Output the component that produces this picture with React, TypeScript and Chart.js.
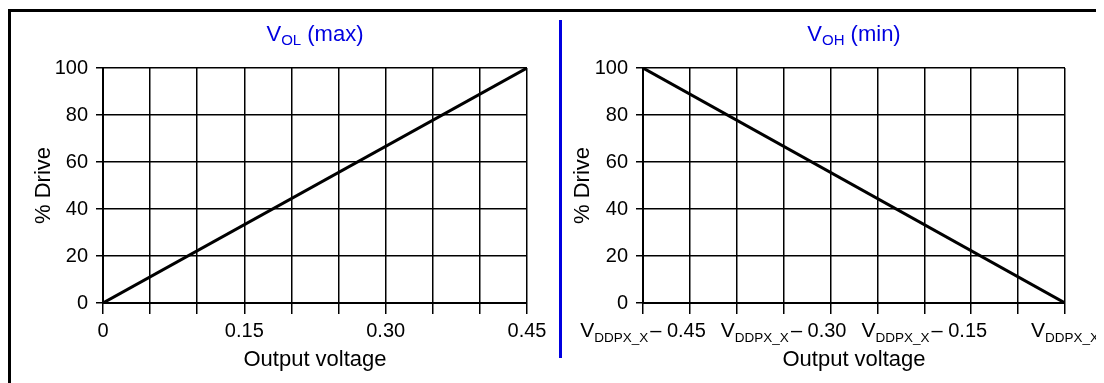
import React, { useEffect, useRef } from 'react';
import { Chart, registerables } from 'chart.js';

Chart.register(...registerables);

// ---- data ----
const voltage = [0, 0.45];
const volDrive = [0, 100];
const vohDrive = [100, 0];
const leftTickLabels = ['0', '0.15', '0.30', '0.45'];
const rightTickSuffix = ['– 0.45', '– 0.30', '– 0.15', ''];
const rightTickBase = 'V';
const rightTickSub = 'DDPX_X';
const leftTitle = ['V', 'OL', ' (max)'];
const rightTitle = ['V', 'OH', ' (min)'];
const yTitle = '% Drive';
const xTitle = 'Output voltage';
const xMin = 0;
const xMax = 0.45;
const xStep = 0.05;
const yMin = 0;
const yMax = 100;
const yStep = 20;

const FONT = '"Liberation Sans", Arial, sans-serif';
const BLUE = '#0000e0';

type Seg = { text: string; size: number; dy: number; color: string; gap?: number };

function drawRich(ctx: CanvasRenderingContext2D, segs: Seg[], cx: number, baseline: number) {
  ctx.save();
  ctx.textAlign = 'left';
  ctx.textBaseline = 'alphabetic';
  let total = 0;
  const widths = segs.map((s) => {
    ctx.font = `${s.size}px ${FONT}`;
    const w = ctx.measureText(s.text).width + (s.gap || 0);
    total += w;
    return w;
  });
  let x = cx - total / 2;
  segs.forEach((s, i) => {
    ctx.font = `${s.size}px ${FONT}`;
    ctx.fillStyle = s.color;
    ctx.fillText(s.text, x + (s.gap || 0), baseline + s.dy);
    x += widths[i];
  });
  ctx.restore();
}

function makeChart(canvas: HTMLCanvasElement, side: 'left' | 'right') {
  const isLeft = side === 'left';
  const yWidth = isLeft ? 95 : 91;
  const padRight = isLeft ? 25 : 39;
  const title = isLeft ? leftTitle : rightTitle;
  const drive = isLeft ? volDrive : vohDrive;

  const overlay = {
    id: 'overlay' + side,
    afterDraw(chart: any) {
      const ctx = chart.ctx as CanvasRenderingContext2D;
      const area = chart.chartArea;
      const cx = (area.left + area.right) / 2;
      drawRich(
        ctx,
        [
          { text: title[0], size: 22, dy: 0, color: BLUE },
          { text: title[1], size: 15, dy: 4, color: BLUE },
          { text: title[2], size: 22, dy: 0, color: BLUE },
        ],
        cx,
        33
      );
      if (!isLeft) {
        const xs = chart.scales.x;
        rightTickSuffix.forEach((suf, i) => {
          const px = xs.getPixelForValue(i * 0.15);
          const segs: Seg[] = [
            { text: rightTickBase, size: 21, dy: 0, color: '#000' },
            { text: rightTickSub, size: 13.5, dy: 5, color: '#000' },
          ];
          if (suf) segs.push({ text: suf, size: 20, dy: 0, color: '#000', gap: 2 });
          drawRich(ctx, segs, px, 329);
        });
      }
    },
  };

  return new Chart(canvas, {
    type: 'line',
    data: {
      datasets: [
        {
          data: voltage.map((v, i) => ({ x: v, y: drive[i] })),
          borderColor: '#000',
          borderWidth: 3,
          pointRadius: 0,
          fill: false,
          tension: 0,
        },
      ],
    },
    options: {
      animation: false,
      responsive: false,
      devicePixelRatio: 1,
      layout: { padding: { left: 0, right: padRight, top: 60, bottom: 0 } },
      plugins: { legend: { display: false }, tooltip: { enabled: false }, title: { display: false } },
      scales: {
        x: {
          type: 'linear',
          min: xMin,
          max: xMax,
          afterFit: (s: any) => {
            s.height = 80;
          },
          ticks: {
            stepSize: xStep,
            autoSkip: false,
            maxRotation: 0,
            padding: 5,
            color: '#000',
            font: { family: FONT, size: 20 },
            callback: (_v: any, i: number) => (isLeft && i % 3 === 0 ? leftTickLabels[i / 3] : ''),
          },
          grid: { color: '#000', lineWidth: 1.5, tickLength: 11, drawTicks: true },
          border: { display: true, color: '#000', width: 2 },
          title: {
            display: true,
            text: xTitle,
            color: '#000',
            font: { family: FONT, size: 22 },
            padding: { top: 0, bottom: 10 },
          },
        },
        y: {
          type: 'linear',
          min: yMin,
          max: yMax,
          afterFit: (s: any) => {
            s.width = yWidth;
          },
          ticks: {
            stepSize: yStep,
            padding: 8,
            color: '#000',
            font: { family: FONT, size: 20 },
          },
          grid: { color: '#000', lineWidth: 1.5, tickLength: 7, drawTicks: true },
          border: { display: true, color: '#000', width: 2 },
          title: {
            display: true,
            text: yTitle,
            color: '#000',
            font: { family: FONT, size: 22 },
            padding: { top: isLeft ? 23 : 18, bottom: 0 },
          },
        },
      },
    },
    plugins: [overlay],
  } as any);
}

function Panel({ side, left, width }: { side: 'left' | 'right'; left: number; width: number }) {
  const ref = useRef<HTMLCanvasElement>(null);
  useEffect(() => {
    if (!ref.current) return;
    const chart = makeChart(ref.current, side);
    return () => chart.destroy();
  }, [side]);
  return (
    <canvas
      ref={ref}
      width={width}
      height={375}
      style={{ position: 'absolute', left, top: 0, width, height: 375 }}
    />
  );
}

export default function App() {
  return (
    <div style={{ position: 'relative', width: 1096, height: 375, overflow: 'hidden', background: '#fff' }}>
      <div
        style={{
          position: 'absolute',
          left: 0,
          top: 1,
          width: 1200,
          height: 500,
          borderTop: '3px solid #000',
          borderLeft: '3px solid #000',
        }}
      />
      <div style={{ position: 'absolute', left: 551, top: 12, width: 3, height: 338, background: BLUE }} />
      <Panel side="left" left={0} width={544} />
      <Panel side="right" left={544} width={552} />
    </div>
  );
}
